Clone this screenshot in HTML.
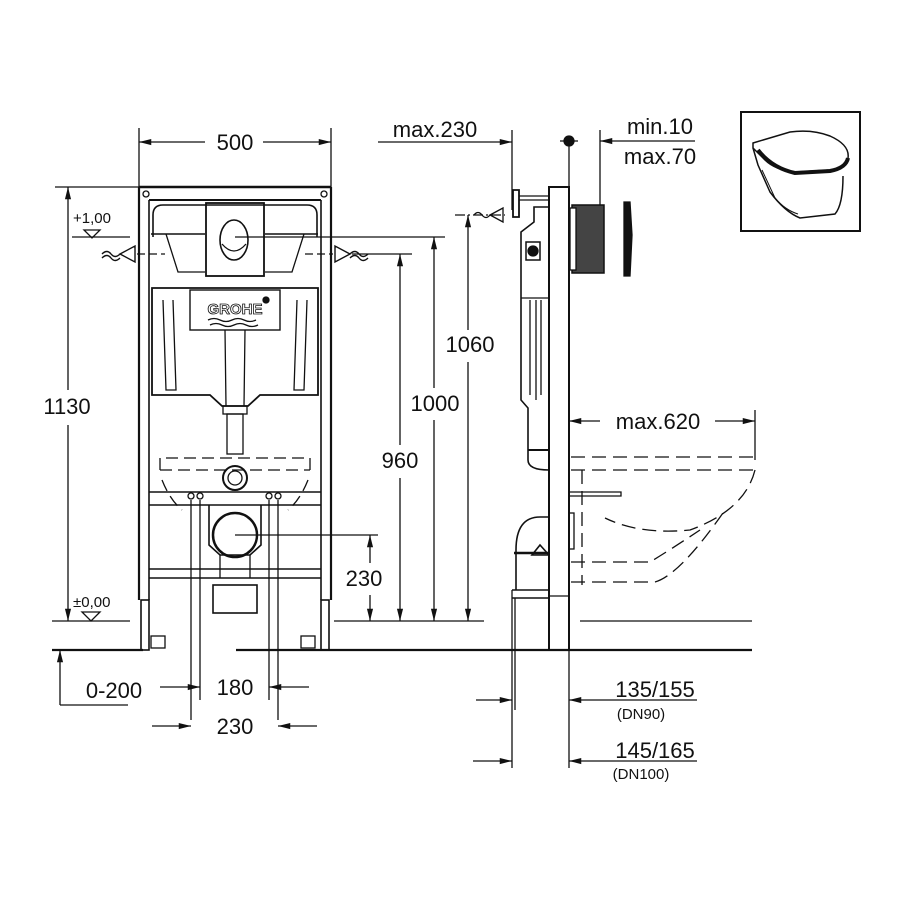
<!DOCTYPE html>
<html><head><meta charset="utf-8"><style>
html,body{margin:0;padding:0;background:#fff}
svg{display:block}
text{font-family:"Liberation Sans",sans-serif;fill:#111}
</style></head><body>
<svg width="900" height="900" viewBox="0 0 900 900" xmlns="http://www.w3.org/2000/svg">
<defs>
<marker id="a" viewBox="0 0 14 8" refX="14" refY="4" markerWidth="14" markerHeight="7" orient="auto-start-reverse" markerUnits="userSpaceOnUse"><path d="M0,0.5 L14,4 L0,7.5 z" fill="#111"/></marker>
</defs>
<g stroke="#111" fill="none" stroke-width="1.3">
<line x1="139" y1="128" x2="139" y2="187"/><line x1="331" y1="128" x2="331" y2="187"/>
<line x1="139" y1="142" x2="205" y2="142" marker-start="url(#a)"/><line x1="263" y1="142" x2="331" y2="142" marker-end="url(#a)"/>
<line x1="139" y1="187" x2="331" y2="187" stroke-width="2.5"/>
<line x1="149" y1="200" x2="321" y2="200" stroke-width="2"/>
<line x1="139" y1="187" x2="139" y2="600" stroke-width="2.2"/><line x1="149" y1="200" x2="149" y2="600" stroke-width="1.6"/>
<line x1="331" y1="187" x2="331" y2="600" stroke-width="2.2"/><line x1="321" y1="200" x2="321" y2="600" stroke-width="1.6"/>
<rect x="141" y="600" width="8" height="50" stroke-width="1.6"/><rect x="321" y="600" width="8" height="50" stroke-width="1.6"/>
<rect x="151" y="636" width="14" height="12"/><rect x="301" y="636" width="14" height="12"/>
<circle cx="146" cy="194" r="3"/><circle cx="324" cy="194" r="3"/>
<path d="M153,237 L153,215 Q153,205 163,205 L307,205 Q317,205 317,215 L317,237" stroke-width="1.6"/>
<rect x="206" y="203" width="58" height="73" stroke-width="1.8"/>
<ellipse cx="234" cy="240" rx="14" ry="20" stroke-width="1.6"/>
<path d="M222,244 Q234,258 246,244"/>
<path d="M151,234 L205,234 M265,234 L318,234" stroke-width="1.6"/>
<path d="M166,234 L178,272 L205,272 M265,272 L292,272 L304,234"/>
<path d="M152,288 L318,288 L318,395 L260,395 L248,406 L222,406 L210,395 L152,395 Z" stroke-width="1.8"/>
<rect x="190" y="290" width="90" height="40" stroke-width="1.4"/>
<text x="235" y="314" font-size="15" font-weight="bold" text-anchor="middle" stroke="#111" stroke-width="0.8" style="fill:#fff">GROHE</text>
<circle cx="266" cy="300" r="3" fill="#111"/>
<path d="M208,320 q6,-3 12,0 t12,0 t12,0 t12,0 M210,325 q6,-3 12,0 t12,0 t12,0 t12,0"/>
<path d="M163,300 L166,390 L176,390 L173,300 M307,300 L304,390 L294,390 L297,300"/>
<path d="M225,330 L226,406 M245,330 L244,406"/>
<rect x="223" y="406" width="24" height="8"/><rect x="227" y="414" width="16" height="40"/>
<circle cx="235" cy="478" r="12" stroke-width="2"/><circle cx="235" cy="478" r="7"/>
<path d="M160,470 L160,458 L310,458 L310,470 M160,470 L310,470 M162,480 Q170,500 182,510 M308,480 Q300,500 288,510" stroke-dasharray="12,6"/>
<line x1="149" y1="492" x2="321" y2="492" stroke-width="1.6"/><line x1="149" y1="505" x2="321" y2="505" stroke-width="1.6"/>
<line x1="149" y1="569" x2="321" y2="569" stroke-width="1.6"/><line x1="149" y1="578" x2="321" y2="578" stroke-width="1.6"/>
<circle cx="191" cy="496" r="3"/><circle cx="200" cy="496" r="3"/><circle cx="269" cy="496" r="3"/><circle cx="278" cy="496" r="3"/>
<path d="M209,505 L209,545 L220,555 L250,555 L261,545 L261,505" stroke-width="1.6"/>
<circle cx="235" cy="535" r="22" stroke-width="2.5"/>
<path d="M220,555 L220,578 M250,555 L250,578"/>
<rect x="213" y="585" width="44" height="28" stroke-width="1.6"/>
<line x1="191" y1="500" x2="191" y2="720"/><line x1="200" y1="500" x2="200" y2="700"/>
<line x1="269" y1="500" x2="269" y2="700"/><line x1="278" y1="500" x2="278" y2="720"/>
<path d="M120,254 L135,246 L135,262 Z M102,254 q5,-5 9,0 t9,0 M102,258 q5,-5 9,0 t9,0" stroke-width="1.4"/>
<path d="M350,254 L335,246 L335,262 Z M350,254 q5,-5 9,0 t9,0 M350,258 q5,-5 9,0 t9,0" stroke-width="1.4"/>
<line x1="137" y1="254" x2="165" y2="254" stroke-dasharray="8,4"/>
<line x1="305" y1="254" x2="333" y2="254" stroke-dasharray="8,4"/>
<line x1="72" y1="237" x2="130" y2="237"/>
<path d="M84,230 L100,230 L92,238 Z"/>
<line x1="235" y1="237" x2="445" y2="237"/>
<line x1="352" y1="254" x2="412" y2="254"/>
<line x1="55" y1="187" x2="139" y2="187"/>
<line x1="68" y1="187" x2="68" y2="390" marker-start="url(#a)"/><line x1="68" y1="425" x2="68" y2="621" marker-end="url(#a)"/>
<line x1="52" y1="621" x2="130" y2="621"/>
<path d="M82,612 L100,612 L91,621 Z"/>
<line x1="334" y1="621" x2="484" y2="621"/>
<line x1="580" y1="621" x2="752" y2="621"/>
<line x1="52" y1="650" x2="143" y2="650" stroke-width="2.2"/>
<line x1="236" y1="650" x2="752" y2="650" stroke-width="2.2"/>
<line x1="60" y1="650" x2="60" y2="705" marker-start="url(#a)"/><line x1="60" y1="705" x2="128" y2="705"/>
<line x1="160" y1="687" x2="200" y2="687" marker-end="url(#a)"/><line x1="309" y1="687" x2="269" y2="687" marker-end="url(#a)"/>
<line x1="152" y1="726" x2="191" y2="726" marker-end="url(#a)"/><line x1="317" y1="726" x2="278" y2="726" marker-end="url(#a)"/>
<line x1="235" y1="535" x2="378" y2="535"/>
<line x1="370" y1="535" x2="370" y2="563" marker-start="url(#a)"/><line x1="370" y1="595" x2="370" y2="621" marker-end="url(#a)"/>
<line x1="400" y1="254" x2="400" y2="445" marker-start="url(#a)"/><line x1="400" y1="478" x2="400" y2="621" marker-end="url(#a)"/>
<line x1="434" y1="237" x2="434" y2="388" marker-start="url(#a)"/><line x1="434" y1="420" x2="434" y2="621" marker-end="url(#a)"/>
<line x1="468" y1="215" x2="468" y2="330" marker-start="url(#a)"/><line x1="468" y1="362" x2="468" y2="621" marker-end="url(#a)"/>
<line x1="455" y1="215" x2="505" y2="215" stroke-dasharray="10,3,2,3"/>
<path d="M490,215 L503,208 L503,222 Z M474,215 q4,-5 8,0 t8,0" stroke-width="1.3"/>
<line x1="378" y1="142" x2="512" y2="142" marker-end="url(#a)"/>
<line x1="512" y1="130" x2="512" y2="210"/>
<circle cx="569" cy="141" r="5" fill="#111"/><line x1="560" y1="141" x2="578" y2="141"/>
<line x1="569" y1="141" x2="569" y2="187"/>
<line x1="600" y1="130" x2="600" y2="205"/>
<line x1="695" y1="141" x2="600" y2="141" marker-end="url(#a)"/>
<rect x="549" y="187" width="20" height="463" stroke-width="2"/>
<line x1="549" y1="596" x2="569" y2="596"/>
<rect x="572" y="205" width="32" height="68" fill="#444" stroke-width="1.5"/>
<rect x="570" y="208" width="6" height="62" fill="#fff"/>
<path d="M624,202 L630,202 L632,235 L630,276 L624,276 Z" fill="#111"/>
<path d="M513,190 L519,190 L519,217 L513,217 Z" stroke-width="1.8"/>
<path d="M519,196 L549,196 M519,200 L549,200"/>
<path d="M549,207 L534,207 L534,222 L521,232 L521,400 L528,408 L528,460 Q528,470 549,470" stroke-width="1.6"/>
<rect x="526" y="242" width="14" height="18" stroke-width="1.5"/><circle cx="533" cy="251" r="5" fill="#111"/>
<line x1="521" y1="298" x2="549" y2="298"/>
<path d="M536,300 L536,400 M541,300 L541,395 M530,300 L530,395"/>
<line x1="528" y1="450" x2="549" y2="450" stroke-width="2"/>
<path d="M549,517 L540,517 Q516,517 516,550 L516,590 M549,555 L532,555 L540,545 L549,555" stroke-width="1.6"/>
<line x1="514" y1="553" x2="549" y2="553" stroke-width="2.5"/>
<path d="M512,590 L549,590 M512,598 L549,598" stroke-width="1.5"/>
<line x1="512" y1="590" x2="512" y2="768"/><line x1="515" y1="598" x2="515" y2="710"/>
<line x1="569" y1="650" x2="569" y2="768"/>
<rect x="569" y="513" width="5" height="36"/>
<g stroke-dasharray="14,7">
<line x1="571" y1="457" x2="755" y2="457"/><line x1="571" y1="470" x2="755" y2="470"/>
<path d="M755,470 Q745,510 690,530 Q640,535 605,518"/>
<path d="M582,470 L582,585"/>
<path d="M571,562 L650,562 Q670,550 700,530 M571,582 L655,582 Q680,575 725,510"/>
</g>
<path d="M569,492 L621,492 L621,496 L569,496"/>
<line x1="755" y1="410" x2="755" y2="460"/>
<line x1="569" y1="421" x2="600" y2="421" marker-start="url(#a)"/><line x1="715" y1="421" x2="755" y2="421" marker-end="url(#a)"/>
<line x1="476" y1="700" x2="512" y2="700" marker-end="url(#a)"/><line x1="697" y1="700" x2="569" y2="700" marker-end="url(#a)"/>
<line x1="473" y1="761" x2="512" y2="761" marker-end="url(#a)"/><line x1="697" y1="761" x2="569" y2="761" marker-end="url(#a)"/>
<rect x="741" y="112" width="119" height="119" stroke-width="2"/>
<path d="M753,143 L790,132 Q812,129 830,136 Q850,145 848,158 Q846,168 830,170 L795,172 Q775,170 765,160 L753,148 Z" stroke-width="1.5"/>
<path d="M758,150 Q772,168 795,173 L830,171 Q846,168 848,158" stroke-width="4"/>
<path d="M753,148 L758,165 L770,192 Q785,212 800,218 L835,214 Q843,205 843,176" stroke-width="1.5"/>
<path d="M762,170 L775,198 Q785,210 798,214" stroke-width="1"/>
</g>
<g font-size="22">
<text x="235" y="150" text-anchor="middle">500</text>
<text x="435" y="137" text-anchor="middle">max.230</text>
<text x="660" y="134" text-anchor="middle">min.10</text>
<text x="660" y="164" text-anchor="middle">max.70</text>
<text x="67" y="414" text-anchor="middle">1130</text>
<text x="470" y="352" text-anchor="middle">1060</text>
<text x="435" y="411" text-anchor="middle">1000</text>
<text x="400" y="468" text-anchor="middle">960</text>
<text x="364" y="586" text-anchor="middle">230</text>
<text x="658" y="429" text-anchor="middle">max.620</text>
<text x="114" y="698" text-anchor="middle">0-200</text>
<text x="235" y="695" text-anchor="middle">180</text>
<text x="235" y="734" text-anchor="middle">230</text>
<text x="655" y="697" text-anchor="middle">135/155</text>
<text x="655" y="758" text-anchor="middle">145/165</text>
</g>
<text x="641" y="719" font-size="15" text-anchor="middle">(DN90)</text>
<text x="641" y="779" font-size="15" text-anchor="middle">(DN100)</text>
<text x="73" y="223" font-size="15">+1,00</text>
<text x="73" y="607" font-size="15">±0,00</text>
</svg>
</body></html>
